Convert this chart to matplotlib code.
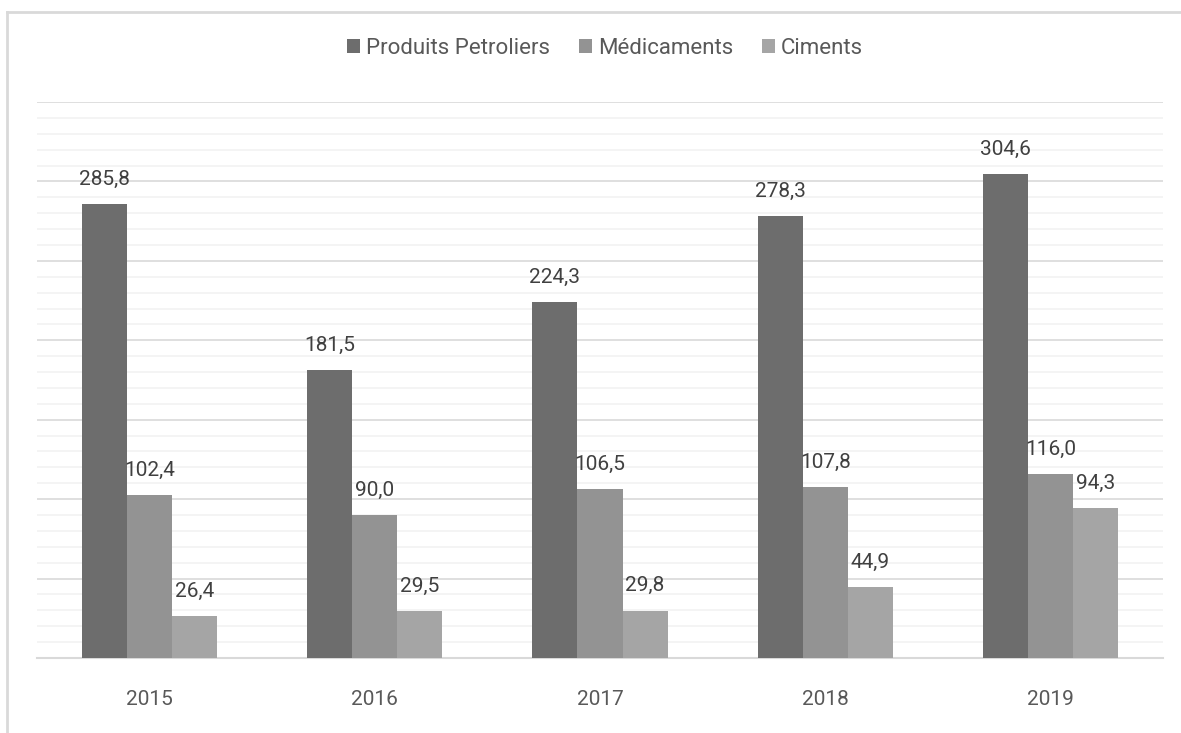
import matplotlib
matplotlib.use('Agg')
import matplotlib.pyplot as plt
import numpy as np
from matplotlib.lines import Line2D

years = ['2015', '2016', '2017', '2018', '2019']
produits_petroliers = [285.8, 181.5, 224.3, 278.3, 304.6]
medicaments = [102.4, 90.0, 106.5, 107.8, 116.0]
ciments = [26.4, 29.5, 29.8, 44.9, 94.3]
series_names = ['Produits Petroliers', 'Médicaments', 'Ciments']

colors = ['#6d6d6d', '#939393', '#a5a5a5']
plt.rcParams['font.family'] = ['Roboto', 'DejaVu Sans']

fig = plt.figure(figsize=(11.81, 7.33), dpi=100)
ax = fig.add_axes([37 / 1181, 75 / 733, 1126 / 1181, 556 / 733])

x = np.arange(len(years))
width = 0.2
for i, (name, vals) in enumerate(zip(series_names, [produits_petroliers, medicaments, ciments])):
    pos = x + (i - 1) * width
    bars = ax.bar(pos, vals, width=width, color=colors[i], label=name, zorder=3)
    for b, v in zip(bars, vals):
        ax.annotate(f'{v:.1f}'.replace('.', ','),
                    (b.get_x() + b.get_width() / 2, v),
                    xytext=(0, 11), textcoords='offset points',
                    ha='center', va='bottom', fontsize=15, color='#404040')

ax.set_xlim(-0.5, len(years) - 0.5)
ax.set_ylim(0, 350)
ax.set_yticks(np.arange(0, 351, 50))
ax.set_yticks(np.arange(0, 351, 10), minor=True)
ax.grid(axis='y', which='minor', color='#f2f2f2', linewidth=1.2, zorder=0)
ax.grid(axis='y', which='major', color='#d9d9d9', linewidth=1.2, zorder=1)
ax.set_xticks(x)
ax.set_xticklabels(years, fontsize=15, color='#595959')
ax.tick_params(axis='x', length=0, pad=23)
ax.tick_params(axis='y', which='both', length=0, labelleft=False)
for s in ['top', 'right', 'left']:
    ax.spines[s].set_visible(False)
ax.spines['bottom'].set_color('#d9d9d9')
ax.spines['bottom'].set_linewidth(1.5)

ax.legend(loc='center', bbox_to_anchor=(605 / 1181, 1 - 48 / 733),
          bbox_transform=fig.transFigure, ncol=3, frameon=False,
          fontsize=16, labelcolor='#595959', handlelength=0.6, handleheight=0.6,
          handletextpad=0.25, columnspacing=1.3)

# chart border (top and left edges visible)
fig.add_artist(Line2D([7 / 1181, 1], [1 - 12 / 733, 1 - 12 / 733], color='#d9d9d9', linewidth=2, transform=fig.transFigure))
fig.add_artist(Line2D([7 / 1181, 7 / 1181], [0, 1 - 12 / 733], color='#d9d9d9', linewidth=2, transform=fig.transFigure))

fig.savefig('out.png', dpi=100)
